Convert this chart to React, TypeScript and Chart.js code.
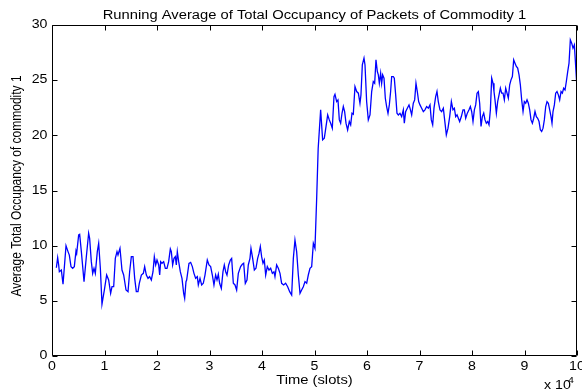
import React, { useEffect, useRef } from "react";
import { Chart, registerables } from "chart.js";

Chart.register(...registerables);

// Time in units of 10^4 slots
const timeValues: number[] = [
  0.083, 0.108, 0.127, 0.14, 0.178, 0.21, 0.267, 0.305, 0.33, 0.362, 0.394, 0.425, 0.457, 0.47, 0.508, 0.527,
  0.559, 0.61, 0.654, 0.698, 0.717, 0.749, 0.775, 0.8, 0.825, 0.863, 0.889, 0.921, 0.952, 0.997, 1.041, 1.079,
  1.117, 1.143, 1.175, 1.206, 1.238, 1.257, 1.295, 1.333, 1.365, 1.41, 1.448, 1.479, 1.511, 1.543, 1.575, 1.606,
  1.638, 1.663, 1.702, 1.74, 1.765, 1.797, 1.829, 1.86, 1.892, 1.924, 1.949, 1.975, 2.0, 2.032, 2.051, 2.07,
  2.095, 2.127, 2.159, 2.19, 2.222, 2.254, 2.273, 2.298, 2.324, 2.349, 2.368, 2.387, 2.413, 2.444, 2.476, 2.508,
  2.527, 2.552,
  2.565, 2.609, 2.641, 2.673, 2.704, 2.736, 2.768, 2.787, 2.819, 2.851, 2.882, 2.914, 2.958, 2.99, 3.022, 3.054,
  3.085, 3.117, 3.143, 3.168, 3.193, 3.225, 3.257, 3.282, 3.308, 3.333, 3.365, 3.397, 3.422, 3.454, 3.486, 3.517,
  3.549, 3.593, 3.625, 3.651, 3.682, 3.714, 3.739, 3.771, 3.79, 3.822, 3.854, 3.885, 3.917, 3.943, 3.968, 3.993,
  4.019, 4.044, 4.07, 4.101, 4.133, 4.165, 4.197, 4.228, 4.247, 4.279, 4.311, 4.343, 4.374, 4.412, 4.45, 4.489,
  4.527, 4.565, 4.597, 4.628, 4.66, 4.692, 4.724, 4.755, 4.787, 4.819, 4.851, 4.882, 4.914, 4.946, 4.978, 5.009,
  5.04, 5.07,
  5.117, 5.155, 5.187, 5.219, 5.251, 5.282, 5.308, 5.339, 5.371, 5.39, 5.422, 5.447, 5.473, 5.498, 5.524, 5.549,
  5.574, 5.6, 5.631, 5.663, 5.689, 5.714, 5.739, 5.771, 5.803, 5.835, 5.866, 5.885, 5.911, 5.943, 5.962, 5.993,
  6.025, 6.057, 6.089, 6.12, 6.146, 6.171, 6.197, 6.216, 6.235, 6.26, 6.279, 6.298, 6.324, 6.349, 6.374, 6.4,
  6.425, 6.45, 6.47, 6.501, 6.52, 6.546, 6.571, 6.597, 6.628, 6.66, 6.692, 6.711, 6.736, 6.768, 6.8, 6.819,
  6.851, 6.882, 6.908, 6.933, 6.958, 6.984, 7.009, 7.041, 7.073, 7.104, 7.136, 7.168, 7.2, 7.225, 7.251, 7.276,
  7.308, 7.333, 7.358, 7.39, 7.422, 7.454, 7.486,
  7.511, 7.543, 7.575, 7.607, 7.638, 7.664, 7.689, 7.715, 7.74, 7.765, 7.797, 7.829, 7.854, 7.88, 7.911, 7.943,
  7.969, 7.994, 8.019, 8.045, 8.07, 8.096, 8.121, 8.146, 8.172, 8.197, 8.223, 8.248, 8.273, 8.299, 8.324, 8.35,
  8.375, 8.4, 8.419, 8.438, 8.464, 8.489, 8.515, 8.54, 8.565, 8.591, 8.616, 8.642, 8.667, 8.692, 8.718, 8.743,
  8.769, 8.794, 8.819, 8.845, 8.87, 8.896, 8.921, 8.946, 8.972, 8.997, 9.023, 9.048, 9.073, 9.099, 9.124, 9.15,
  9.175, 9.2, 9.226, 9.251, 9.277, 9.302, 9.327, 9.353, 9.378, 9.404, 9.429, 9.454, 9.48, 9.505, 9.524, 9.543,
  9.569, 9.594, 9.619, 9.645, 9.67, 9.696, 9.721, 9.746, 9.772, 9.797, 9.823, 9.848, 9.873, 9.899, 9.924, 9.95,
  9.975, 9.994,
];

const occupancyValues: number[] = [
  8.0, 8.91, 8.25, 7.64, 7.79, 6.5, 10.0, 9.46, 9.15, 8.1, 7.95, 8.1, 9.52, 9.3, 10.97, 11.03,
  9.46, 6.74, 9.0, 11.12, 10.66, 8.55, 7.49, 7.95, 7.49, 9.46, 10.21, 7.95, 4.71, 5.98, 7.34, 6.89,
  5.68, 6.28, 6.28, 8.85, 9.46, 9.15, 9.76, 7.79, 7.34, 5.98, 5.83, 7.64, 9.0, 9.0, 7.04, 5.83,
  5.83, 6.59, 7.34, 7.49, 8.1, 7.34, 7.04, 7.19, 6.89, 7.64, 9.0, 8.25, 8.7, 8.25, 7.34, 8.55,
  8.4, 8.55, 7.95, 7.95, 8.55, 9.7, 9.46, 8.25, 8.85, 9.0, 8.25, 9.46, 8.55, 7.64, 7.04, 5.68,
  5.23, 6.74,
  6.89, 8.4, 8.49, 8.1, 7.49, 7.04, 7.19, 6.44, 7.04, 6.44, 6.59, 7.34, 8.7, 8.25, 8.1, 7.34,
  6.44, 7.34, 6.89, 7.4, 6.59, 6.13, 7.64, 8.25, 7.64, 7.34, 8.25, 8.7, 8.85, 6.59, 6.44, 5.98,
  7.49, 8.1, 8.31, 8.4, 6.59, 6.89, 8.25, 8.85, 9.76, 8.85, 7.79, 7.95, 8.85, 9.3, 9.91, 9.0,
  8.4, 8.7, 7.34, 8.1, 7.79, 7.95, 7.49, 7.64, 7.19, 8.25, 7.95, 7.49, 6.59, 6.44, 6.59, 6.28,
  5.83, 5.53, 8.85, 10.51, 9.46, 7.34, 5.68, 5.98, 6.28, 6.74, 6.59, 7.34, 7.95, 8.1, 10.21, 9.76,
  14.1, 18.8,
  22.31, 19.59, 19.74, 20.79, 21.85, 21.4, 21.1, 20.64, 23.51, 23.72, 23.06, 23.21, 21.4, 21.1, 22.0, 22.61,
  22.15, 21.1, 20.49, 21.25, 20.95, 22.0, 21.91, 24.42, 23.97, 23.82, 22.91, 23.67, 26.38, 26.99, 26.38, 23.06,
  21.4, 21.85, 23.97, 24.87, 24.72, 26.84, 25.78, 25.48, 24.72, 25.63, 24.72, 25.48, 25.18, 23.36, 22.61, 22.0,
  22.76, 23.97, 25.33, 25.33, 25.18, 23.67, 22.0, 21.85, 22.0, 21.7, 22.31, 21.1, 22.15, 22.46, 22.76, 22.46,
  21.85, 22.91, 23.21, 24.72, 23.97, 23.06, 22.76, 22.46, 22.15, 22.31, 22.61, 22.46, 22.76, 21.4, 20.95, 22.46,
  23.51, 23.97, 23.06, 22.31, 22.15, 22.46, 21.1,
  20.04, 20.65, 21.7, 23.06, 22.31, 22.46, 21.7, 21.86, 21.55, 21.25, 21.7, 22.31, 22.31, 21.55, 22.01, 22.31,
  22.61, 22.16, 21.25, 22.31, 22.76, 23.82, 23.97, 22.91, 20.8, 21.7, 22.01, 21.4, 21.1, 21.25, 20.95, 22.31,
  25.18, 24.73, 23.97, 23.22, 22.01, 23.06, 23.67, 24.27, 23.82, 23.82, 23.22, 24.27, 23.82, 23.37, 24.58, 25.03,
  25.33, 26.84, 26.54, 26.24, 26.09, 25.48, 24.58, 23.22, 22.16, 23.06, 22.91, 23.22, 22.91, 22.31, 21.4, 21.1,
  21.55, 22.16, 21.7, 21.55, 21.25, 20.5, 20.35, 20.65, 21.4, 22.61, 23.06, 22.91, 22.31, 21.7, 21.1, 22.16,
  22.76, 23.82, 23.97, 23.67, 23.22, 23.97, 23.82, 24.27, 24.12, 24.88, 25.78, 26.54, 28.65, 28.35, 27.9, 28.2,
  26.24, 24.73,
];

const xTickValues: number[] = [0, 1, 2, 3, 4, 5, 6, 7, 8, 9, 10];
const yTickValues: number[] = [0, 5, 10, 15, 20, 25, 30];

const titleText = "Running Average of Total Occupancy of Packets of Commodity 1";
const xAxisLabel = "Time (slots)";
const yAxisLabel = "Average Total Occupancy of commodity 1";
const exponentBase = "x 10";
const exponentPower = "4";

const FONT = '"Liberation Sans", Arial, Helvetica, sans-serif';
const STRETCH = 1.18;

function drawText(
  ctx: CanvasRenderingContext2D,
  text: string,
  x: number,
  y: number,
  size: number,
  align: CanvasTextAlign,
  baseline: CanvasTextBaseline
) {
  ctx.save();
  ctx.translate(x, y);
  ctx.scale(STRETCH, 1);
  ctx.font = `${size}px ${FONT}`;
  ctx.textAlign = align;
  ctx.textBaseline = baseline;
  ctx.fillStyle = "#000";
  ctx.fillText(text, 0, 0);
  ctx.restore();
}

const matlabAxesPlugin = {
  id: "matlabAxes",
  afterDraw(chart: any) {
    const ctx: CanvasRenderingContext2D = chart.ctx;
    const ca = chart.chartArea;
    const xs = chart.scales.x;
    const ys = chart.scales.y;
    const L = Math.round(ca.left) + 0.5;
    const R = Math.round(ca.right) - 0.5;
    const T = Math.round(ca.top) + 0.5;
    const B = Math.round(ca.bottom) - 0.5;
    const tickLen = 5;

    ctx.save();
    ctx.strokeStyle = "#000";
    ctx.lineWidth = 1;
    ctx.beginPath();
    ctx.rect(L, T, R - L, B - T);
    ctx.stroke();

    ctx.beginPath();
    for (const v of xTickValues) {
      const px = Math.round(xs.getPixelForValue(v)) + 0.5;
      ctx.moveTo(px, B);
      ctx.lineTo(px, B - tickLen);
      ctx.moveTo(px, T);
      ctx.lineTo(px, T + tickLen);
    }
    for (const v of yTickValues) {
      const py = Math.round(ys.getPixelForValue(v)) + 0.5;
      ctx.moveTo(L, py);
      ctx.lineTo(L + tickLen, py);
      ctx.moveTo(R, py);
      ctx.lineTo(R - tickLen, py);
    }
    ctx.stroke();
    ctx.restore();

    for (const v of xTickValues) {
      const px = xs.getPixelForValue(v);
      drawText(ctx, String(v), px, B + 5, 12, "center", "top");
    }
    for (const v of yTickValues) {
      const py = ys.getPixelForValue(v);
      drawText(ctx, String(v), L - 5, py, 12, "right", "middle");
    }

    const cx = (ca.left + ca.right) / 2;
    drawText(ctx, titleText, cx, 18.5, 12.5, "center", "alphabetic");
    drawText(ctx, xAxisLabel, cx, 384, 12.5, "center", "alphabetic");
    drawText(ctx, exponentBase, 544, 389, 12, "left", "alphabetic");
    drawText(ctx, exponentPower, 568, 383, 9, "left", "alphabetic");

    ctx.save();
    ctx.translate(20.5, 186);
    ctx.scale(STRETCH, 1);
    ctx.rotate(-Math.PI / 2);
    ctx.font = `12px ${FONT}`;
    ctx.textAlign = "center";
    ctx.textBaseline = "alphabetic";
    ctx.fillStyle = "#000";
    ctx.fillText(yAxisLabel, 0, 0);
    ctx.restore();
  },
};

export default function App() {
  const canvasRef = useRef<HTMLCanvasElement | null>(null);

  useEffect(() => {
    if (!canvasRef.current) return;
    const points = timeValues.map((t, i) => ({ x: t, y: occupancyValues[i] }));
    const chart = new Chart(canvasRef.current, {
      type: "line",
      data: {
        datasets: [
          {
            data: points,
            borderColor: "#0000ff",
            borderWidth: 1.3,
            pointRadius: 0,
            tension: 0,
            fill: false,
          },
        ],
      },
      options: {
        animation: false,
        responsive: false,
        maintainAspectRatio: false,
        devicePixelRatio: 1,
        layout: { padding: { top: 25, right: 5, left: 0, bottom: 0 } },
        plugins: {
          legend: { display: false },
          title: { display: false },
          tooltip: { enabled: false },
        },
        scales: {
          x: {
            type: "linear",
            min: 0,
            max: 10,
            grid: { display: false },
            border: { display: false },
            ticks: { display: false, stepSize: 1 },
            afterFit: (scale: any) => {
              scale.height = 33;
              scale.paddingLeft = 0;
              scale.paddingRight = 0;
            },
          },
          y: {
            type: "linear",
            min: 0,
            max: 30,
            grid: { display: false },
            border: { display: false },
            ticks: { display: false, stepSize: 5 },
            afterFit: (scale: any) => {
              scale.width = 52;
              scale.paddingTop = 0;
              scale.paddingBottom = 0;
            },
          },
        },
      },
      plugins: [matlabAxesPlugin],
    });
    return () => chart.destroy();
  }, []);

  return (
    <div style={{ position: "fixed", left: 0, top: 0, width: 582, height: 389, background: "#fff" }}>
      <canvas ref={canvasRef} width={582} height={389} style={{ display: "block" }} />
    </div>
  );
}
